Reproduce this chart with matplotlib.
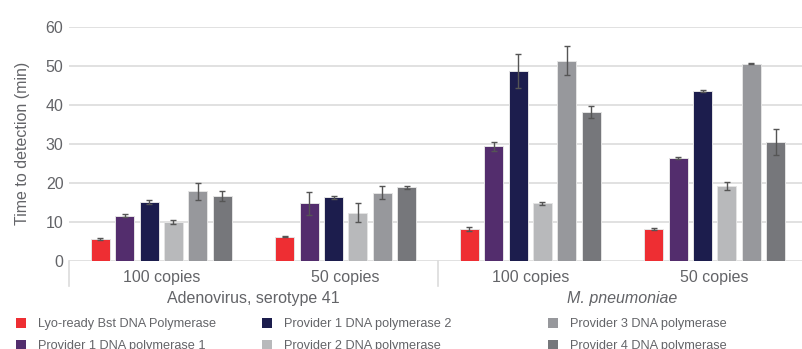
import matplotlib.pyplot as plt
from matplotlib.patches import Patch
from matplotlib.transforms import blended_transform_factory
import numpy as np

plt.rcParams['font.family'] = ['Liberation Sans', 'DejaVu Sans']

# groups along the x axis
copies = ['100 copies', '50 copies', '100 copies', '50 copies']
organisms = ['Adenovirus, serotype 41', 'M. pneumoniae']

# polymerases (series)
names = ['Lyo-ready Bst DNA Polymerase', 'Provider 1 DNA polymerase 1',
         'Provider 1 DNA polymerase 2', 'Provider 2 DNA polymerase',
         'Provider 3 DNA polymerase', 'Provider 4 DNA polymerase']
colors = ['#ee2e33', '#532d6d', '#1c1d4d', '#b8b9bb', '#97989c', '#76777b']

# time to detection (min), one row per polymerase, one column per group
means = [
    [5.5, 6.2, 8.2, 8.2],
    [11.5, 14.7, 29.4, 26.3],
    [15.1, 16.3, 48.7, 43.6],
    [9.9, 12.3, 14.7, 19.2],
    [17.8, 17.5, 51.3, 50.6],
    [16.6, 18.8, 38.1, 30.4],
]
errors = [
    [0.2, 0.15, 0.5, 0.2],
    [0.4, 2.9, 1.2, 0.2],
    [0.6, 0.35, 4.4, 0.2],
    [0.5, 2.4, 0.3, 1.1],
    [2.1, 1.7, 3.7, 0.1],
    [1.3, 0.4, 1.5, 3.3],
]

fig = plt.figure(figsize=(8.03, 3.49), dpi=100)
ax = fig.add_axes([69 / 803, 1 - 260.7 / 349, 738 / 803, 233.7 / 349])

x = np.arange(len(copies))
step = 0.132
width = 0.103
txt = '#636468'

for i in range(len(names)):
    pos = x + (i - 2.5) * step
    ax.bar(pos, means[i], width, color=colors[i], edgecolor='#e4e4e4',
           linewidth=0.7, zorder=3, label=names[i])
    ax.errorbar(pos, means[i], yerr=errors[i], fmt='none', ecolor='#555555',
                elinewidth=1, capsize=2.5, capthick=1, zorder=4)

ax.set_xlim(-0.5, 3.5)
ax.set_ylim(0, 60)
ax.set_yticks(range(0, 61, 10))
ax.set_xticks([])
ax.tick_params(axis='y', length=0, labelsize=11.5, labelcolor=txt, pad=4)
ax.grid(axis='y', color='#dcdcdc', linewidth=1.2, zorder=0)
for s in ax.spines.values():
    s.set_visible(False)
ax.set_ylabel('Time to detection (min)', fontsize=11.5, color=txt, labelpad=11)

trans = blended_transform_factory(ax.transData, ax.transAxes)
for i, c in enumerate(copies):
    ax.text(x[i], -0.072, c, transform=trans, ha='center', va='center',
            fontsize=11.5, color=txt)
for j, org in enumerate(organisms):
    ax.text(0.5 + 2 * j, -0.163, org, transform=trans, ha='center', va='center',
            fontsize=11.5, color=txt, style='italic' if j == 1 else 'normal')
for b in [-0.5, 1.5, 3.5]:
    ax.plot([b, b], [0, -0.11], transform=trans, color='#dcdcdc',
            linewidth=1.2, clip_on=False)

# legend in three columns placed like the reference
handles = [Patch(facecolor=c) for c in colors]
col_x = [16 / 803, 262 / 803, 548 / 803]
for k in range(3):
    leg = fig.legend(handles[2 * k:2 * k + 2], names[2 * k:2 * k + 2],
                     loc='upper left', bbox_to_anchor=(col_x[k], 1 - 318 / 349),
                     frameon=False, fontsize=9.2, handlelength=0.8,
                     handleheight=0.8, handletextpad=0.9, labelspacing=0.72,
                     borderpad=0, borderaxespad=0, labelcolor=txt)

fig.savefig('out.png', dpi=100)
